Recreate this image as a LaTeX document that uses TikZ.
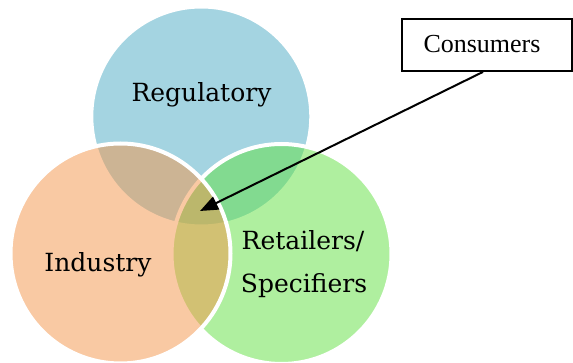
\documentclass[tikz,border=0pt]{standalone}
\usepackage{fontspec}
\setmainfont{Liberation Serif}
\newfontfamily\labelfont{DejaVu Serif}
\usetikzlibrary{arrows.meta}
\definecolor{cblue}{RGB}{75,171,197}
\definecolor{cgreen}{RGB}{97,225,65}
\definecolor{corange}{RGB}{245,149,73}
\begin{document}
\begin{tikzpicture}[x=1pt,y=-1pt,
  venn/.style={circle, minimum size=220pt, inner sep=0pt, draw=white, line width=4pt, fill opacity=0.5, draw opacity=1},
  vlabel/.style={font=\labelfont\fontsize{25}{30}\selectfont, anchor=base, inner sep=0pt},
  boxnode/.style={draw=black, line width=1.8pt, minimum width=170pt, minimum height=52pt, inner sep=0pt, fill=white},
  ctext/.style={font=\fontsize{26}{30}\selectfont, anchor=base, inner sep=0pt},
  pointer/.style={draw=black, line width=2pt, -{Triangle[length=18pt,width=14pt]}}]
\useasboundingbox (0,0) rectangle (573,363);
\fill[white] (0,0) rectangle (573,363);
\node[venn, fill=cblue] (reg) at (201.3,116.5) {};
\node[venn, fill=cgreen] (ret) at (281.5,254) {};
\node[venn, fill=corange] (ind) at (120.5,253.5) {};
\node[vlabel] (regt) at (201.5,102) {Regulatory};
\node[vlabel] (indt) at (98,272) {Industry};
\node[vlabel] (rett1) at (303,250) {Retailers/};
\node[vlabel] (rett2) at (304,293) {Specifiers};
\node[boxnode] (cons) at (487,45) {};
\node[ctext] (const) at (482,53) {Consumers};
\coordinate (tip) at (200,211);
\draw[pointer] ([xshift=-4pt]cons.south) -- (tip);
\end{tikzpicture}
\end{document}
